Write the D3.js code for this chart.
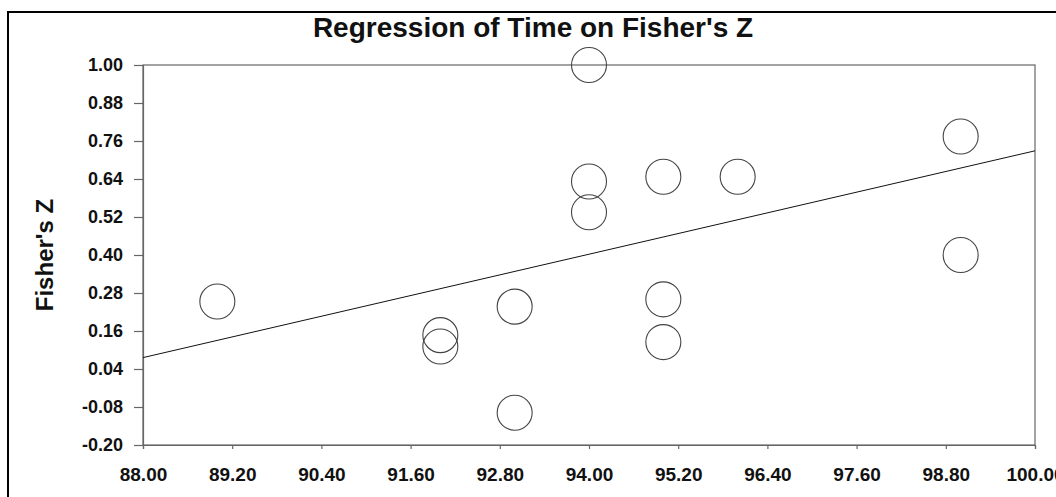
<!DOCTYPE html>
<html>
<head>
<meta charset="utf-8">
<script src="https://cdn.jsdelivr.net/npm/d3@7"></script>
<style>
  body { margin: 0; background: #fff; }
  svg { display: block; font-family: "Liberation Sans", Arial, sans-serif; }
</style>
</head>
<body>
<div id="chart"></div>
<script>
// study values
var timeVals = [89.0, 94.0, 94.0, 94.0, 95.0, 96.0, 99.0, 99.0, 93.0, 93.0, 92.0, 92.0, 95.0, 95.0]
var fisherZ  = [0.253, 1.000, 0.632, 0.535, 0.647, 0.647, 0.774, 0.400, 0.237, -0.098, 0.147, 0.111, 0.260, 0.125]

// fitted regression line (ends of the line)
var fitX = [88, 100]
var fitY = [0.076, 0.729]

var xTicks = [88.0, 89.2, 90.4, 91.6, 92.8, 94.0, 95.2, 96.4, 97.6, 98.8, 100.0]
var yTicks = [-0.20, -0.08, 0.04, 0.16, 0.28, 0.40, 0.52, 0.64, 0.76, 0.88, 1.00]

var W = 1056, H = 497
var margin = {top: 65, right: 21, bottom: 52, left: 143}
var pw = W - margin.left - margin.right
var ph = H - margin.top - margin.bottom

var svg = d3.select("#chart").append("svg")
    .attr("width", W)
    .attr("height", H)

// outer frame, only the top and left edges show in the picture
svg.append("rect")
    .attr("x", 8).attr("y", 12)
    .attr("width", W + 20).attr("height", H + 20)
    .attr("fill", "none")
    .attr("stroke", "#000")
    .attr("stroke-width", 2)

var g = svg.append("g")
    .attr("transform", "translate(" + margin.left + "," + margin.top + ")")

var x = d3.scaleLinear().domain([88, 100]).range([0, pw])
var y = d3.scaleLinear().domain([-0.20, 1.00]).range([ph, 0])

// plot box
g.append("rect")
    .attr("width", pw).attr("height", ph)
    .attr("fill", "none")
    .attr("stroke", "#666")
    .attr("stroke-width", 1.2)

var xAxis = g.append("g")
    .attr("transform", "translate(0," + ph + ")")
    .call(d3.axisBottom(x).tickValues(xTicks).tickSize(4).tickPadding(19)
      .tickFormat(function(d) { return d.toFixed(2) }))

var yAxis = g.append("g")
    .call(d3.axisLeft(y).tickValues(yTicks).tickSize(9).tickPadding(11)
      .tickFormat(function(d) { return d.toFixed(2) }))

svg.selectAll(".domain").attr("stroke", "#666").attr("stroke-width", 1.2)
svg.selectAll(".tick line").attr("stroke", "#666").attr("stroke-width", 1.2)
svg.selectAll(".tick text")
    .attr("fill", "#111")
    .attr("font-family", "'Liberation Sans', Arial, sans-serif")
    .attr("font-weight", "bold")
xAxis.selectAll(".tick text").attr("font-size", 19)
yAxis.selectAll(".tick text").attr("font-size", 18)

// regression line
var line = d3.line()
    .x(function(d, i) { return x(fitX[i]) })
    .y(function(d) { return y(d) })

g.append("path")
    .datum(fitY)
    .attr("d", line)
    .attr("fill", "none")
    .attr("stroke", "#111")
    .attr("stroke-width", 1)

// study circles
g.selectAll("circle.pt")
    .data(timeVals)
    .enter().append("circle")
    .attr("class", "pt")
    .attr("cx", function(d) { return x(d) })
    .attr("cy", function(d, i) { return y(fisherZ[i]) })
    .attr("r", 17.5)
    .attr("fill", "none")
    .attr("stroke", "#444")
    .attr("stroke-width", 1.1)

// title
svg.append("text")
    .attr("x", 533)
    .attr("y", 37)
    .attr("text-anchor", "middle")
    .attr("font-size", 28)
    .attr("font-weight", "bold")
    .attr("fill", "#111")
    .text("Regression of Time on Fisher's Z")

// y axis title
svg.append("text")
    .attr("transform", "translate(53," + (margin.top + ph / 2) + ") rotate(-90)")
    .attr("text-anchor", "middle")
    .attr("font-size", 24)
    .attr("font-weight", "bold")
    .attr("fill", "#111")
    .text("Fisher's Z")
</script>
</body>
</html>
